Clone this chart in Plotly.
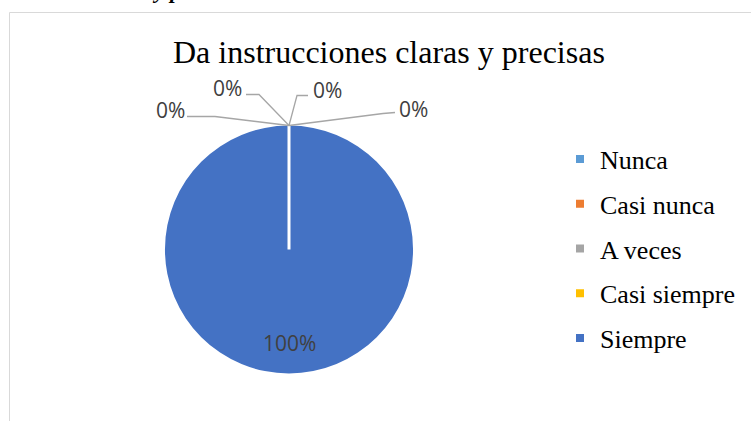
import plotly.graph_objects as go

# ---- data ----
categories = ["Nunca", "Casi nunca", "A veces", "Casi siempre", "Siempre"]
values = [0, 0, 0, 0, 30]
colors = ["#5B9BD5", "#ED7D31", "#A5A5A5", "#FFC000", "#4472C4"]
title_text = "Da instrucciones claras y precisas"

W, H = 751, 421
def px(x):
    return x / W
def py(y):
    return 1 - y / H

total = sum(values)
pct = [f"{round(100 * v / total)}%" for v in values]

# pie geometry (pixels)
cx, cy, r = 289, 249.5, 124

fig = go.Figure()
fig.add_trace(go.Pie(
    labels=categories, values=values, sort=False, direction="clockwise",
    rotation=0, marker=dict(colors=colors, line=dict(width=0)),
    textinfo="none", hoverinfo="label+percent", showlegend=False,
    domain=dict(x=[px(cx - r), px(cx + r)], y=[py(cy + r), py(cy - r)]),
))

# legend entries
for cat, col in zip(categories, colors):
    fig.add_trace(go.Scatter(
        x=[None], y=[None], mode="markers", name=cat, legendgroup=cat,
        marker=dict(symbol="square", size=8, color=col),
    ))

shapes = []
# chart frame
shapes.append(dict(type="rect", xref="paper", yref="paper",
                   x0=px(9.5), x1=px(W + 20), y0=py(H + 20), y1=py(12.5),
                   line=dict(color="#D9D9D9", width=1), fillcolor="rgba(0,0,0,0)",
                   layer="below"))
# white slice border from center to top
shapes.append(dict(type="line", xref="paper", yref="paper",
                   x0=px(cx), x1=px(cx), y0=py(cy), y1=py(cy - r),
                   line=dict(color="white", width=3)))

# zero-slice labels with leader lines (Excel style)
label_pos = [(170, 110), (227, 88), (327, 90), (413, 109)]
leader_paths = [
    [(187, 116.5), (215, 116.5)],
    [(246, 94.5), (259, 94.5)],
    [(308, 95.5), (297, 95.5)],
    [(395, 112.5), (383, 113.5)],
]
annotations = []
top = (cx, cy - r)
for i, (pos, pts) in enumerate(zip(label_pos, leader_paths)):
    annotations.append(dict(text=pct[i], x=px(pos[0]), y=py(pos[1]), xref="paper", yref="paper",
                            showarrow=False, xanchor="center", yanchor="middle",
                            font=dict(family="Open Sans", size=21, color="#404040")))
    allpts = pts + [top]
    path = "M " + " L ".join(f"{px(a)},{py(b)}" for a, b in allpts)
    shapes.append(dict(type="path", xref="paper", yref="paper", path=path,
                       line=dict(color="#A6A6A6", width=1.3)))

# 100% label inside the slice
annotations.append(dict(text=pct[4], x=px(cx), y=py(cy + 0.75 * r), xref="paper", yref="paper",
                        showarrow=False, xanchor="center", yanchor="middle",
                        font=dict(family="Open Sans", size=21, color="#404040")))
# title
annotations.append(dict(text=title_text, x=px(389), y=py(52), xref="paper", yref="paper",
                        showarrow=False, xanchor="center", yanchor="middle",
                        font=dict(family="Liberation Serif", size=32, color="#000000")))
# cut-off document text at the very top
annotations.append(dict(text="<b><i>y p</i></b>", x=px(166), y=py(4.5), xref="paper", yref="paper",
                        showarrow=False, xanchor="center", yanchor="bottom",
                        font=dict(family="Liberation Serif", size=22, color="#000000")))

fig.update_layout(
    width=W, height=H,
    margin=dict(l=0, r=0, t=0, b=0),
    paper_bgcolor="white", plot_bgcolor="white",
    xaxis=dict(visible=False), yaxis=dict(visible=False),
    showlegend=True,
    legend=dict(x=px(560), y=py(135.5), xanchor="left", yanchor="top",
                font=dict(family="Liberation Serif", size=26, color="#000000"),
                tracegroupgap=8, bgcolor="rgba(0,0,0,0)", itemclick=False),
    shapes=shapes, annotations=annotations,
)

fig.write_html("out.html", config={"displayModeBar": False})
# remove the default page margin so the figure sits at the window's origin
with open("out.html", encoding="utf-8") as f:
    html = f.read()
html = html.replace("<head>", "<head><style>html,body{margin:0;padding:0;overflow:hidden;}</style>", 1)
with open("out.html", "w", encoding="utf-8") as f:
    f.write(html)
